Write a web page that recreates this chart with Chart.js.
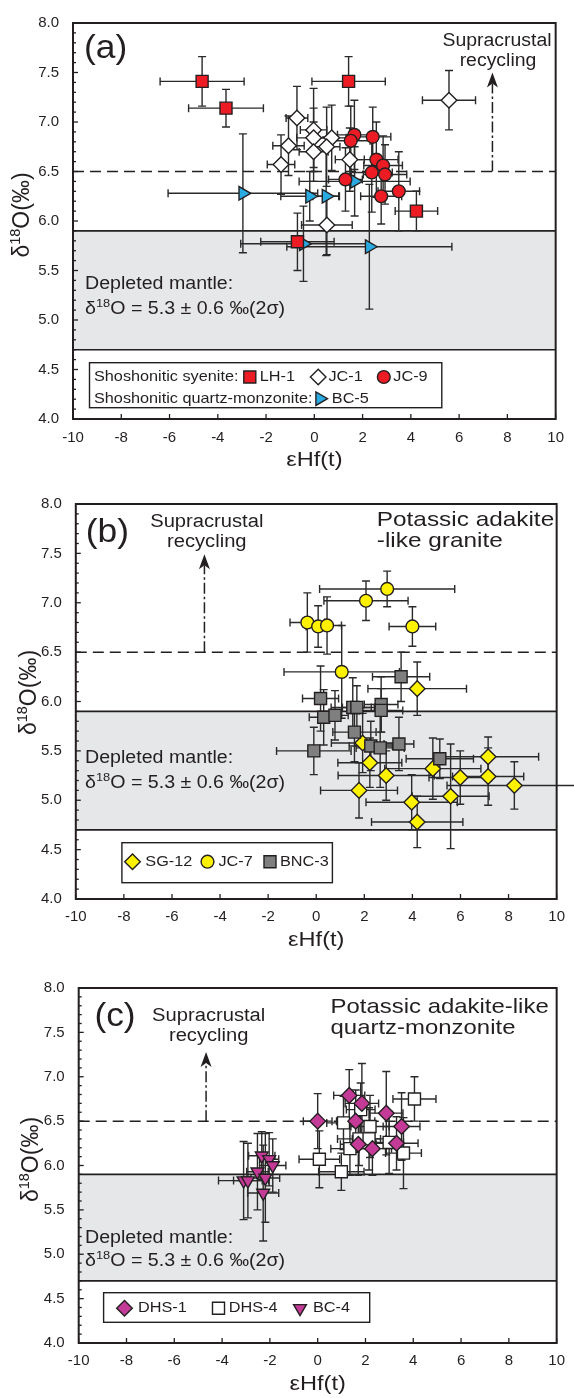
<!DOCTYPE html>
<html>
<head>
<meta charset="utf-8">
<script src="https://cdn.jsdelivr.net/npm/chart.js@4.4.1/dist/chart.umd.min.js"></script>
<style>
  html, body { margin: 0; padding: 0; background: #fff; }
  #wrap { position: relative; width: 574px; height: 1398px; }
  canvas { position: absolute; left: 0; }
</style>
</head>
<body>
<div id="wrap">
  <canvas id="panelA" width="574" height="470" style="top:0px"></canvas>
  <canvas id="panelB" width="574" height="480" style="top:470px"></canvas>
  <canvas id="panelC" width="574" height="448" style="top:950px"></canvas>
</div>
<script>
const FONT = '"Liberation Sans", Arial, Helvetica, sans-serif';
const INK = '#231f20';

// shared axes
const xTickValues = [-10, -8, -6, -4, -2, 0, 2, 4, 6, 8, 10];
const yTickValues = [4.0, 4.5, 5.0, 5.5, 6.0, 6.5, 7.0, 7.5, 8.0];
const mantleBand = [4.7, 5.9];      // depleted mantle 5.3 +/- 0.6
const recyclingLevel = 6.5;

// ---- panel (a): shoshonitic rocks ----
const lh1X = [-4.65, -3.66, 1.42, 4.23, -0.70];
const lh1Y = [7.41, 7.14, 7.41, 6.10, 5.79];
const lh1XErr = [1.74, 1.55, 1.52, 0.88, 1.52];
const lh1YErr = [0.25, 0.19, 0.25, 0.20, 0.29];

const jc1X = [5.58, -0.72, -0.03, -0.03, 0.72, -1.07, 0.51, -0.03, -1.38, 1.47, 0.52];
const jc1Y = [7.22, 7.04, 6.92, 6.84, 6.84, 6.76, 6.75, 6.70, 6.57, 6.62, 5.96];
const jc1XErr = [1.10, 0.45, 0.55, 0.70, 0.60, 0.65, 0.55, 0.60, 0.57, 0.60, 1.05];
const jc1YErr = [0.30, 0.32, 0.42, 0.30, 0.33, 0.30, 0.40, 0.30, 0.30, 0.32, 0.30];

const jc9X = [1.66, 1.51, 2.42, 2.57, 2.85, 2.38, 2.93, 1.29, 2.77, 3.50];
const jc9Y = [6.87, 6.81, 6.85, 6.62, 6.56, 6.49, 6.47, 6.42, 6.25, 6.30];
const jc9XErr = [0.70, 0.80, 0.75, 0.90, 0.80, 0.85, 0.90, 0.70, 0.85, 0.86];
const jc9YErr = [0.35, 0.35, 0.30, 0.38, 0.30, 0.40, 0.30, 0.32, 0.28, 0.40];

const bc5X = [-2.96, -0.19, 0.49, 1.67, 2.28, -0.45];
const bc5Y = [6.28, 6.25, 6.25, 6.40, 5.74, 5.77];
const bc5XErr = [3.10, 1.20, 0.55, 2.30, 3.42, 2.60];
const bc5YErr = [0.60, 0.25, 0.60, 0.35, 0.63, 0.38];

// ---- panel (b): potassic adakite-like granite ----
const sg12X = [4.20, 1.93, 2.23, 2.91, 1.78, 3.97, 4.20, 4.85, 5.59, 5.99, 7.15, 7.15, 8.24];
const sg12Y = [6.13, 5.58, 5.38, 5.25, 5.10, 4.98, 4.78, 5.32, 5.04, 5.23, 5.44, 5.24, 5.15];
const sg12XErr = [2.05, 1.30, 1.33, 2.00, 1.60, 1.90, 1.90, 2.00, 1.60, 1.30, 2.10, 1.48, 2.80];
const sg12YErr = [0.27, 0.30, 0.25, 0.25, 0.28, 0.28, 0.26, 0.31, 0.53, 0.27, 0.20, 0.29, 0.24];

const jc7X = [2.95, 2.07, -0.37, 0.08, 0.45, 4.00, 1.06];
const jc7Y = [7.14, 7.02, 6.80, 6.76, 6.77, 6.76, 6.30];
const jc7XErr = [2.81, 1.75, 0.72, 0.50, 0.60, 0.97, 2.40];
const jc7YErr = [0.18, 0.20, 0.30, 0.21, 0.29, 0.20, 0.47];

const bnc3X = [3.53, 0.18, 0.31, 0.78, 1.52, 1.69, 2.70, 2.70, 1.59, 2.27, 2.66, 3.44, -0.10, 5.14];
const bnc3Y = [6.25, 6.03, 5.84, 5.86, 5.94, 5.94, 5.97, 5.91, 5.69, 5.55, 5.53, 5.57, 5.50, 5.42];
const bnc3XErr = [1.19, 0.75, 0.60, 0.55, 0.90, 0.60, 0.70, 0.90, 0.90, 0.90, 1.00, 0.62, 1.55, 1.40];
const bnc3YErr = [0.25, 0.33, 0.28, 0.25, 0.30, 0.22, 0.28, 0.22, 0.30, 0.25, 0.40, 0.27, 0.24, 0.20];

// ---- panel (c): potassic adakite-like quartz-monzonite ----
const dhs1X = [0.00, 1.32, 1.85, 1.59, 2.87, 3.51, 3.30, 2.29, 1.70];
const dhs1Y = [6.50, 6.79, 6.70, 6.50, 6.59, 6.44, 6.25, 6.19, 6.24];
const dhs1XErr = [0.60, 0.65, 0.70, 0.80, 0.70, 0.77, 0.90, 0.80, 0.75];
const dhs1YErr = [0.31, 0.29, 0.45, 0.35, 0.47, 0.38, 0.30, 0.30, 0.35];

const dhs4X = [4.05, 1.08, 1.80, 2.19, 1.73, 2.15, 1.35, 2.99, 0.07, 3.59, 0.99];
const dhs4Y = [6.75, 6.48, 6.63, 6.44, 6.30, 6.30, 6.19, 6.26, 6.07, 6.14, 5.93];
const dhs4XErr = [0.90, 0.70, 0.60, 0.80, 0.90, 0.70, 0.80, 0.60, 0.85, 0.75, 0.95];
const dhs4YErr = [0.25, 0.30, 0.30, 0.35, 0.30, 0.35, 0.30, 0.35, 0.32, 0.40, 0.21];

const bc4X = [-2.34, -2.03, -1.88, -2.52, -3.10, -2.92, -2.19, -2.28];
const bc4Y = [6.11, 6.07, 6.00, 5.93, 5.83, 5.83, 5.86, 5.69];
const bc4XErr = [0.55, 0.40, 0.55, 0.45, 1.05, 0.60, 0.60, 0.65];
const bc4YErr = [0.27, 0.30, 0.30, 0.43, 0.44, 0.42, 0.50, 0.54];

const SHAPES = {
  square:   { pointStyle: 'rect',     pointRadius: 8.5, pointRotation: 0 },
  diamond:  { pointStyle: 'rectRot',  pointRadius: 7.8, pointRotation: 0 },
  circle:   { pointStyle: 'circle',   pointRadius: 6.4, pointRotation: 0 },
  triRight: { pointStyle: 'triangle', pointRadius: 7.8, pointRotation: 90 },
  triDown:  { pointStyle: 'triangle', pointRadius: 7.4, pointRotation: 180 }
};

function series(label, xs, ys, xe, ye, shape, fill, order) {
  return Object.assign({
    label: label,
    data: xs.map((x, i) => ({ x: x, y: ys[i], xErr: xe[i], yErr: ye[i] })),
    pointBackgroundColor: fill,
    pointBorderColor: INK,
    pointBorderWidth: 1.4,
    backgroundColor: fill,
    borderColor: INK,
    order: order || 0
  }, SHAPES[shape]);
}

// text helpers (the source figure is stretched a little horizontally)
function txt(ctx, s, x, y, size, align, sx) {
  sx = sx || 1.12;
  ctx.save();
  ctx.font = size + 'px ' + FONT;
  ctx.fillStyle = INK;
  ctx.textBaseline = 'middle';
  ctx.textAlign = 'left';
  const w = ctx.measureText(s).width * sx;
  const x0 = align === 'center' ? x - w / 2 : x;
  ctx.translate(x0, y);
  ctx.scale(sx, 1);
  ctx.fillText(s, 0, 0);
  ctx.restore();
}

function rich(ctx, parts, x, baseline, align, sx) {
  sx = sx || 1.12;
  ctx.save();
  ctx.fillStyle = INK;
  ctx.textBaseline = 'alphabetic';
  ctx.textAlign = 'left';
  let w = 0;
  parts.forEach(p => { ctx.font = p[1] + 'px ' + FONT; p.w = ctx.measureText(p[0]).width; w += p.w; });
  const x0 = align === 'center' ? x - w * sx / 2 : x;
  ctx.translate(x0, baseline);
  ctx.scale(sx, 1);
  let cx = 0;
  parts.forEach(p => { ctx.font = p[1] + 'px ' + FONT; ctx.fillText(p[0], cx, p[2] || 0); cx += p.w; });
  ctx.restore();
}

function seg(ctx, x0, y0, x1, y1) {
  ctx.beginPath(); ctx.moveTo(x0, y0); ctx.lineTo(x1, y1); ctx.stroke();
}

const decor = {
  id: 'decor',
  beforeDatasetsDraw(chart, args, o) {
    const { ctx, chartArea: a } = chart;
    const xs = chart.scales.x, ys = chart.scales.y;
    ctx.save();
    // depleted mantle band
    const bTop = ys.getPixelForValue(mantleBand[1]);
    const bBot = ys.getPixelForValue(mantleBand[0]);
    ctx.fillStyle = '#e6e7e8';
    ctx.fillRect(a.left, bTop, a.width, bBot - bTop);
    ctx.strokeStyle = INK;
    ctx.lineWidth = 1.6;
    seg(ctx, a.left, bTop, a.right, bTop);
    seg(ctx, a.left, bBot, a.right, bBot);
    // supracrustal threshold
    const yd = ys.getPixelForValue(recyclingLevel);
    ctx.setLineDash([11, 6]);
    ctx.lineWidth = 1.5;
    seg(ctx, a.left, yd, a.right, yd);
    ctx.setLineDash([]);
    // error bars
    const cap = 4;
    ctx.strokeStyle = '#2a2a2a';
    ctx.lineWidth = 1.4;
    chart.data.datasets.forEach(ds => ds.data.forEach(p => {
      const px = xs.getPixelForValue(p.x), py = ys.getPixelForValue(p.y);
      const x0 = xs.getPixelForValue(p.x - p.xErr), x1 = xs.getPixelForValue(p.x + p.xErr);
      const y0 = ys.getPixelForValue(p.y - p.yErr), y1 = ys.getPixelForValue(p.y + p.yErr);
      ctx.beginPath();
      ctx.moveTo(x0, py); ctx.lineTo(x1, py);
      ctx.moveTo(x0, py - cap); ctx.lineTo(x0, py + cap);
      ctx.moveTo(x1, py - cap); ctx.lineTo(x1, py + cap);
      ctx.moveTo(px, y0); ctx.lineTo(px, y1);
      ctx.moveTo(px - cap, y0); ctx.lineTo(px + cap, y0);
      ctx.moveTo(px - cap, y1); ctx.lineTo(px + cap, y1);
      ctx.stroke();
    }));
    ctx.restore();
  },
  afterDatasetsDraw(chart, args, o) {
    const { ctx, chartArea: a } = chart;
    const xs = chart.scales.x, ys = chart.scales.y;
    ctx.save();
    // frame
    ctx.strokeStyle = INK;
    ctx.lineWidth = 2;
    ctx.strokeRect(a.left, a.top, a.width, a.height);
    // inward ticks
    ctx.lineWidth = 1.3;
    for (let v = 40; v <= 80; v++) {
      const py = ys.getPixelForValue(v / 10);
      seg(ctx, a.left, py, a.left + (v % 5 === 0 ? 5 : 3), py);
    }
    xTickValues.forEach(v => {
      const px = xs.getPixelForValue(v);
      seg(ctx, px, a.bottom, px, a.bottom - 5);
    });
    // recycling arrow
    const ax = xs.getPixelForValue(o.arrow[0]);
    const ay0 = ys.getPixelForValue(recyclingLevel);
    const ay1 = ys.getPixelForValue(o.arrow[1]);
    ctx.lineWidth = 1.5;
    ctx.setLineDash([11, 3, 2.5, 3]);
    seg(ctx, ax, ay0, ax, ay1 + 11);
    ctx.setLineDash([]);
    ctx.fillStyle = INK;
    ctx.beginPath();
    ctx.moveTo(ax, ay1);
    ctx.lineTo(ax + 5.5, ay1 + 15);
    ctx.lineTo(ax, ay1 + 11);
    ctx.lineTo(ax - 5.5, ay1 + 15);
    ctx.closePath();
    ctx.fill();
    // annotations
    o.texts.forEach(t => txt(ctx, t[0], a.left + t[1], a.top + t[2], t[3], t[4], t[5]));
    // depleted mantle note
    const d = o.mantleNote;
    txt(ctx, 'Depleted mantle:', a.left + d[0], a.top + d[1], 17.5);
    rich(ctx, [['δ', 17.5], ['18', 11.5, -7], ['O = 5.3 ± 0.6 ‰(2σ)', 17.5]], a.left + d[0], a.top + d[2] + 6);
    // legend
    const L = o.legend;
    ctx.strokeStyle = INK;
    ctx.lineWidth = 1.4;
    ctx.fillStyle = '#fff';
    ctx.fillRect(a.left + L.box[0], a.top + L.box[1], L.box[2], L.box[3]);
    ctx.strokeRect(a.left + L.box[0], a.top + L.box[1], L.box[2], L.box[3]);
    (L.labels || []).forEach(t => txt(ctx, t[0], a.left + t[1], a.top + t[2], 14.5));
    L.items.forEach(it => {
      const ds = chart.data.datasets[it[0]];
      ctx.fillStyle = ds.pointBackgroundColor;
      ctx.strokeStyle = INK;
      ctx.lineWidth = 1.4;
      Chart.helpers.drawPoint(ctx, {
        pointStyle: ds.pointStyle, rotation: ds.pointRotation,
        radius: ds.pointRadius, borderWidth: 1.4
      }, a.left + it[1], a.top + it[3]);
      txt(ctx, ds.label, a.left + it[2], a.top + it[3], 14.5);
    });
    // axis titles
    txt(ctx, 'εHf(t)', (a.left + a.right) / 2, a.bottom + 41, 20.5, 'center', 1.15);
    ctx.translate(a.left + o.yTitle[0], (a.top + a.bottom) / 2 + o.yTitle[1]);
    ctx.rotate(-Math.PI / 2);
    rich(ctx, [['δ', 23], ['18', 14.5, -9], ['O(‰)', 23]], 0, 8, 'center', 1);
    ctx.restore();
  }
};

function makePanel(id, datasets, g, deco) {
  new Chart(document.getElementById(id), {
    type: 'scatter',
    data: { datasets: datasets },
    options: {
      responsive: false,
      animation: false,
      events: [],
      layout: { padding: { top: g.top, right: g.right, left: 0, bottom: 0 } },
      plugins: { legend: { display: false }, tooltip: { enabled: false }, decor: deco },
      scales: {
        x: {
          type: 'linear', min: -10, max: 10,
          afterBuildTicks: s => { s.ticks = xTickValues.map(v => ({ value: v })); },
          afterFit: s => { s.height = g.xAxisH; },
          grid: { display: false, drawTicks: false },
          border: { display: false },
          ticks: {
            padding: g.xPad, color: INK, maxRotation: 0, autoSkip: false,
            font: { family: FONT, size: 15 },
            callback: v => String(v)
          }
        },
        y: {
          type: 'linear', min: 4, max: 8,
          afterBuildTicks: s => { s.ticks = yTickValues.map(v => ({ value: v })); },
          afterFit: s => { s.width = g.yAxisW; },
          grid: { display: false, drawTicks: false },
          border: { display: false },
          ticks: {
            padding: 14, color: INK, autoSkip: false,
            font: { family: FONT, size: 15 },
            callback: v => Number(v).toFixed(1)
          }
        }
      }
    },
    plugins: [decor]
  });
}

makePanel('panelA', [
  series('LH-1', lh1X, lh1Y, lh1XErr, lh1YErr, 'square', '#ed1c24'),
  series('JC-1', jc1X, jc1Y, jc1XErr, jc1YErr, 'diamond', '#ffffff'),
  series('JC-9', jc9X, jc9Y, jc9XErr, jc9YErr, 'circle', '#ed1c24'),
  series('BC-5', bc5X, bc5Y, bc5XErr, bc5YErr, 'triRight', '#29abe2')
], { top: 17, right: 12, yAxisW: 73, xAxisH: 51, xPad: 10 }, {
  arrow: [7.38, 7.5],
  texts: [
    ['(a)', 11, 26, 34, 'left', 1.04],
    ['Supracrustal', 424, 18, 18, 'center', 1.08],
    ['recycling', 425, 38, 18, 'center', 1.08]
  ],
  mantleNote: [12, 261, 285],
  legend: {
    box: [16.5, 339.7, 352.3, 45],
    labels: [['Shoshonitic syenite:', 21, 354], ['Shoshonitic quartz-monzonite:', 21, 375.7]],
    items: [[0, 176.8, 186.8, 354], [1, 245.2, 255.5, 354], [2, 310.8, 320.3, 354], [3, 246.8, 258.8, 375.7]]
  },
  yTitle: [-52, -6]
});

makePanel('panelB', [
  series('SG-12', sg12X, sg12Y, sg12XErr, sg12YErr, 'diamond', '#fff200', 2),
  series('JC-7', jc7X, jc7Y, jc7XErr, jc7YErr, 'circle', '#fff200', 1),
  series('BNC-3', bnc3X, bnc3Y, bnc3XErr, bnc3YErr, 'square', '#7f7f7f', 0)
], { top: 34, right: 14.7, yAxisW: 75.8, xAxisH: 51, xPad: 9 }, {
  arrow: [-4.65, 7.49],
  texts: [
    ['(b)', 10, 29, 34, 'left', 1.04],
    ['Supracrustal', 131, 17.7, 18, 'center'],
    ['recycling', 131, 37.7, 18, 'center'],
    ['Potassic adakite', 301, 16, 21, 'left', 1.16],
    ['-like granite', 301, 37.7, 21, 'left', 1.16]
  ],
  mantleNote: [9.2, 254.3, 277.7],
  legend: {
    box: [46.1, 338.7, 210.5, 40],
    items: [[0, 56.7, 69.5, 357.7], [1, 131.7, 142.7, 357.7], [2, 194.2, 204.2, 357.7]]
  },
  yTitle: [-48, -9]
});

makePanel('panelC', [
  series('DHS-1', dhs1X, dhs1Y, dhs1XErr, dhs1YErr, 'diamond', '#c43b97'),
  series('DHS-4', dhs4X, dhs4Y, dhs4XErr, dhs4YErr, 'square', '#ffffff'),
  series('BC-4', bc4X, bc4Y, bc4XErr, bc4YErr, 'triDown', '#c43b97')
], { top: 38, right: 14.7, yAxisW: 78.7, xAxisH: 55, xPad: 9 }, {
  arrow: [-4.67, 7.28],
  texts: [
    ['(c)', 15.7, 28.7, 34, 'left', 1.04],
    ['Supracrustal', 130, 28, 18, 'center'],
    ['recycling', 130, 48, 18, 'center'],
    ['Potassic adakite-like', 251.8, 19, 21, 'left', 1.14],
    ['quartz-monzonite', 251.8, 40, 21, 'left', 1.14]
  ],
  mantleNote: [6.3, 250.3, 272],
  legend: {
    box: [24.9, 304.7, 266.1, 29.6],
    items: [[0, 45.8, 59.3, 320.3], [1, 139.8, 150.1, 320.3], [2, 221.3, 234.3, 320.3]]
  },
  yTitle: [-49, -6]
});
</script>
</body>
</html>
